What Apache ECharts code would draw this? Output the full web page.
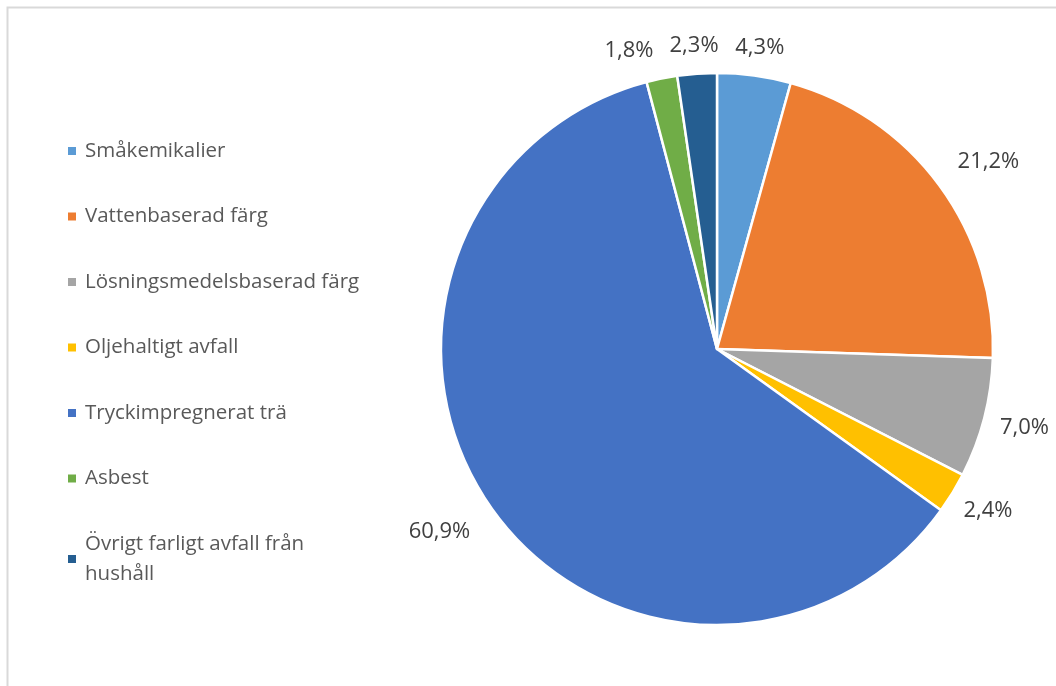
<!DOCTYPE html>
<html>
<head>
<meta charset="utf-8">
<script src="https://cdn.jsdelivr.net/npm/echarts@6/dist/echarts.min.js"></script>
<style>
  html, body { margin: 0; padding: 0; background: #fff; }
  #chart { width: 1056px; height: 686px; }
</style>
</head>
<body>
<div id="chart"></div>
<script>
const categories = [
  'Småkemikalier',
  'Vattenbaserad färg',
  'Lösningsmedelsbaserad färg',
  'Oljehaltigt avfall',
  'Tryckimpregnerat trä',
  'Asbest',
  'Övrigt farligt avfall från hushåll'
];
const shares = [4.3, 21.2, 7.0, 2.4, 60.9, 1.8, 2.3];
const colors = ['#5B9BD5', '#ED7D31', '#A5A5A5', '#FFC000', '#4472C4', '#70AD47', '#255E91'];

(function () {
  const chart = echarts.init(document.getElementById('chart'));
  const font = '"Open Sans", "Noto Sans", sans-serif';
  const labelSize = 22;
  const cx = 717, cy = 349, radius = 276;
  const total = shares.reduce((a, b) => a + b, 0);
  const fmt = (v) => v.toFixed(1).replace('.', ',') + '%';

  // Excel-like label boxes: pushed out along each slice's mid angle
  const ctx = document.createElement('canvas').getContext('2d');
  ctx.font = labelSize + 'px ' + font;
  let acc = 0;
  const boxes = shares.map((v) => {
    const a = (acc + v / 2) / total * Math.PI * 2;
    acc += v;
    const ux = Math.sin(a), uy = -Math.cos(a);
    const w = ctx.measureText(fmt(v)).width, h = 26;
    const d = radius + (v > 15 ? 30 : 17);
    return { x: cx + d * ux + (w / 2) * ux, y: cy + d * uy + (h / 2) * uy + 2, w, h, left: ux < 0 };
  });
  // left half: walk back from 12 o'clock and push overlapping labels left
  const gap = 16;
  for (let i = boxes.length - 2; i >= 0; i--) {
    const b = boxes[i], prev = boxes[i + 1];
    if (!b.left || !prev.left) continue;
    const overlapY = Math.abs(b.y - prev.y) < (b.h + prev.h) / 2;
    const limit = prev.x - prev.w / 2 - gap;
    if (overlapY && b.x + b.w / 2 > limit) b.x = limit - b.w / 2;
  }

  const option = {
    color: colors,
    animation: false,
    graphic: [{
      type: 'rect',
      shape: { x: 7.5, y: 7.5, width: 1100, height: 720 },
      style: { fill: 'none', stroke: '#d9d9d9', lineWidth: 2 },
      silent: true
    }],
    legend: {
      orient: 'vertical',
      left: 61,
      top: 131,
      itemWidth: 10,
      itemHeight: 10,
      itemGap: 35.5,
      icon: 'rect',
      textStyle: {
        fontFamily: font,
        fontSize: 20.5,
        color: '#595959',
        lineHeight: 30,
        padding: [0, 0, 0, 3]
      },
      formatter: (name) => name === 'Övrigt farligt avfall från hushåll'
        ? 'Övrigt farligt avfall från\nhushåll' : name,
      data: categories
    },
    series: [{
      type: 'pie',
      center: [cx, cy],
      radius: radius,
      startAngle: 90,
      clockwise: true,
      avoidLabelOverlap: false,
      itemStyle: { borderColor: '#fff', borderWidth: 2.5 },
      label: {
        position: 'outside',
        fontFamily: font,
        fontSize: labelSize,
        color: '#404040',
        formatter: (p) => fmt(p.value)
      },
      labelLine: { show: false },
      labelLayout: (params) => ({
        x: boxes[params.dataIndex].x,
        y: boxes[params.dataIndex].y,
        align: 'center',
        verticalAlign: 'middle',
        hideOverlap: false
      }),
      emphasis: { disabled: true },
      data: categories.map((name, i) => ({ name, value: shares[i] }))
    }]
  };

  chart.setOption(option);
})();
</script>
</body>
</html>
